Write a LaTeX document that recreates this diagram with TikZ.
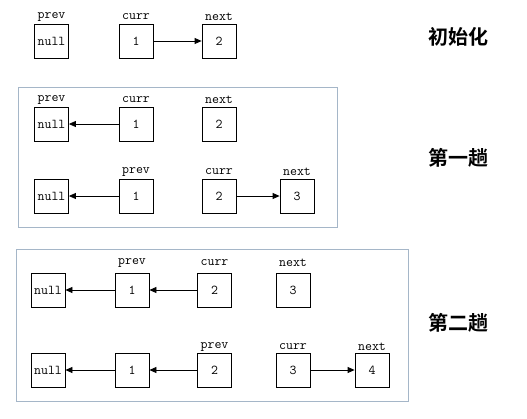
\documentclass[tikz,border=0pt]{standalone}
\usepackage{fontspec}
\newfontfamily\cjk{Noto Sans CJK SC}[BoldFont={Noto Sans CJK SC Bold}]
\usetikzlibrary{arrows.meta}
\definecolor{panelblue}{RGB}{165,182,200}
\tikzset{
  cell/.style={draw, line width=0.8pt, minimum size=34pt, inner sep=0pt, font=\ttfamily\fontsize{13.5}{13.5}\selectfont},
  tag/.style={inner sep=0pt, font=\ttfamily\fontsize{13.5}{13.5}\selectfont},
  link/.style={line width=0.8pt, -{Triangle[length=7pt,width=6pt]}},
  panel/.style={draw=panelblue, line width=0.9pt},
  title/.style={inner sep=0pt, font=\cjk\bfseries\fontsize{20}{20}\selectfont}
}
\begin{document}
\begin{tikzpicture}[x=1pt,y=-1pt]
\useasboundingbox (0,0) rectangle (527,418);
% panels
\draw[panel] (18,87) rectangle (337,227);
\draw[panel] (16,249) rectangle (408,401);
% init row
\node[cell] (a0) at (51.5,41) {null};
\node[cell] (a1) at (136,41) {1};
\node[cell] (a2) at (219,41) {2};
\node[tag] (ta0) at (51.5,17) {prev};
\node[tag] (ta1) at (136,17) {curr};
\node[tag] (ta2) at (219,17) {next};
\draw[link] (a1) -- (a2);
% pass 1 row 1
\node[cell] (b0) at (51.5,124) {null};
\node[cell] (b1) at (136,124) {1};
\node[cell] (b2) at (219,124) {2};
\node[tag] (tb0) at (51.5,100) {prev};
\node[tag] (tb1) at (136,100) {curr};
\node[tag] (tb2) at (219,100) {next};
\draw[link] (b1) -- (b0);
% pass 1 row 2
\node[cell] (c0) at (51.5,196) {null};
\node[cell] (c1) at (136,196) {1};
\node[cell] (c2) at (219,196) {2};
\node[cell] (c3) at (297,196) {3};
\node[tag] (tc1) at (136,172) {prev};
\node[tag] (tc2) at (219,172) {curr};
\node[tag] (tc3) at (297,172) {next};
\draw[link] (c1) -- (c0);
\draw[link] (c2) -- (c3);
% pass 2 row 1
\node[cell] (d0) at (48,290) {null};
\node[cell] (d1) at (132,290) {1};
\node[cell] (d2) at (214.5,290) {2};
\node[cell] (d3) at (293,290) {3};
\node[tag] (td1) at (132,263) {prev};
\node[tag] (td2) at (214.5,263) {curr};
\node[tag] (td3) at (293,263) {next};
\draw[link] (d1) -- (d0);
\draw[link] (d2) -- (d1);
% pass 2 row 2
\node[cell] (e0) at (48,370) {null};
\node[cell] (e1) at (132,370) {1};
\node[cell] (e2) at (214.5,370) {2};
\node[cell] (e3) at (293,370) {3};
\node[cell] (e4) at (372,370) {4};
\node[tag] (te2) at (214.5,347) {prev};
\node[tag] (te3) at (293,347) {curr};
\node[tag] (te4) at (372,347) {next};
\draw[link] (e1) -- (e0);
\draw[link] (e2) -- (e1);
\draw[link] (e3) -- (e4);
% titles
\node[title] (t0) at (458,37) {初始化};
\node[title] (t1) at (458,158) {第一趟};
\node[title] (t2) at (458,323) {第二趟};
\end{tikzpicture}
\end{document}
